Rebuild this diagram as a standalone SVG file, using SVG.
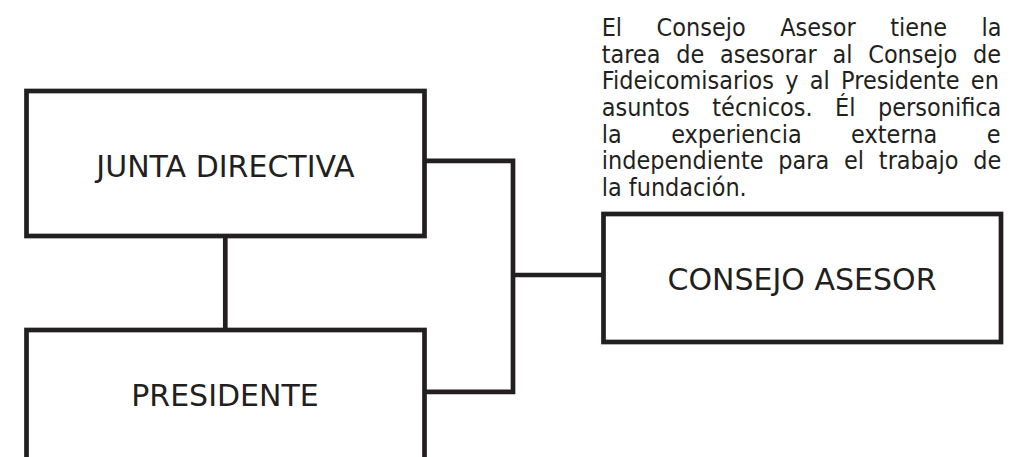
<svg xmlns="http://www.w3.org/2000/svg" width="1023" height="457" viewBox="0 0 1023 457">
<style>
.box{fill:#ffffff;stroke:#231f20;stroke-width:4.7}
.conn{fill:none;stroke:#231f20;stroke-width:4.7;stroke-linejoin:miter}
.lbl{font-family:"DejaVu Sans","Liberation Sans",sans-serif;font-size:30px;fill:#231f20;text-anchor:middle}
.para{font-family:"DejaVu Sans","Liberation Sans",sans-serif;font-size:24px;fill:#231f20}
</style>
<rect width="1023" height="457" fill="#ffffff"/>
<g id="connectors">
<path class="conn" d="M424.5,160.8 H513 V391.8 H424.5"/>
<path class="conn" d="M513,275 H603.5"/>
<path class="conn" d="M225.3,236 V330"/>
</g>
<g id="junta-directiva">
<rect class="box" x="26.5" y="91" width="398" height="145"/>
<text class="lbl" x="225.5" y="176.7">JUNTA DIRECTIVA</text>
</g>
<g id="presidente">
<rect class="box" x="26.5" y="330" width="398" height="150"/>
<text class="lbl" x="225" y="406">PRESIDENTE</text>
</g>
<g id="consejo-asesor">
<rect class="box" x="603.5" y="214" width="397.5" height="128"/>
<text class="lbl" x="802" y="290">CONSEJO ASESOR</text>
</g>
<g id="descripcion" transform="translate(601.7,0) scale(0.935,1)">
<text class="para" x="0" y="36.3" word-spacing="29.3">El Consejo Asesor tiene la</text>
<text class="para" x="0" y="62.9" word-spacing="9.2">tarea de asesorar al Consejo de</text>
<text class="para" x="0" y="89.5" word-spacing="4.5">Fideicomisarios y al Presidente en</text>
<text class="para" x="0" y="116.1" word-spacing="16.5">asuntos técnicos. Él personifica</text>
<text class="para" x="0" y="142.7" word-spacing="45.3">la experiencia externa e</text>
<text class="para" x="0" y="169.3" word-spacing="8.2">independiente para el trabajo de</text>
<text class="para" x="0" y="195.9">la fundación.</text>
</g>
</svg>
